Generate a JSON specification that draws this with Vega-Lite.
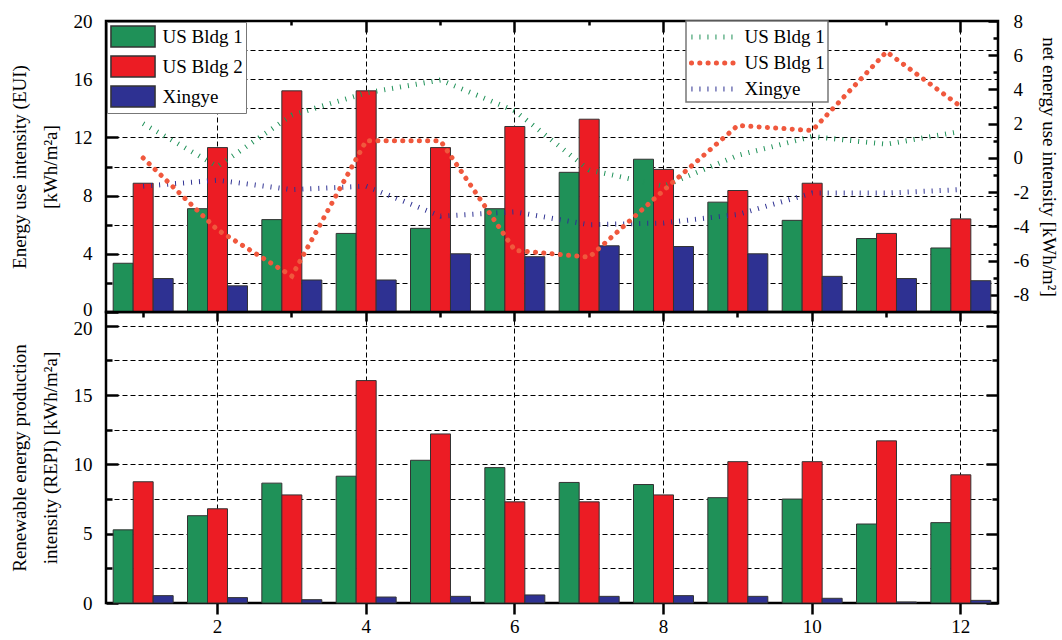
{
  "$schema": "https://vega.github.io/schema/vega-lite/v6.json",
  "padding": {"left": 8, "top": 10, "right": 2, "bottom": 5},
  "background": "white",
  "spacing": 0,
  "bounds": "flush",
  "data": {"values": [
    {"month": 1, "series": "US Bldg 1", "eui": 3.35, "repi": 5.28, "net": 2.0},
    {"month": 1, "series": "US Bldg 2", "eui": 8.85, "repi": 8.75, "net": 0.0},
    {"month": 1, "series": "Xingye", "eui": 2.3, "repi": 0.53, "net": -1.65},
    {"month": 2, "series": "US Bldg 1", "eui": 7.1, "repi": 6.3, "net": -0.5},
    {"month": 2, "series": "US Bldg 2", "eui": 11.3, "repi": 6.8, "net": -4.2},
    {"month": 2, "series": "Xingye", "eui": 1.8, "repi": 0.39, "net": -1.3},
    {"month": 3, "series": "US Bldg 1", "eui": 6.35, "repi": 8.65, "net": 2.5},
    {"month": 3, "series": "US Bldg 2", "eui": 15.2, "repi": 7.8, "net": -6.9},
    {"month": 3, "series": "Xingye", "eui": 2.2, "repi": 0.24, "net": -1.85},
    {"month": 4, "series": "US Bldg 1", "eui": 5.4, "repi": 9.15, "net": 3.8},
    {"month": 4, "series": "US Bldg 2", "eui": 15.2, "repi": 16.05, "net": 1.0},
    {"month": 4, "series": "Xingye", "eui": 2.2, "repi": 0.43, "net": -1.65},
    {"month": 5, "series": "US Bldg 1", "eui": 5.75, "repi": 10.3, "net": 4.55},
    {"month": 5, "series": "US Bldg 2", "eui": 11.3, "repi": 12.2, "net": 1.0},
    {"month": 5, "series": "Xingye", "eui": 4.0, "repi": 0.48, "net": -3.4},
    {"month": 6, "series": "US Bldg 1", "eui": 7.1, "repi": 9.77, "net": 2.75},
    {"month": 6, "series": "US Bldg 2", "eui": 12.75, "repi": 7.3, "net": -5.4},
    {"month": 6, "series": "Xingye", "eui": 3.8, "repi": 0.58, "net": -3.15},
    {"month": 7, "series": "US Bldg 1", "eui": 9.6, "repi": 8.7, "net": -0.7},
    {"month": 7, "series": "US Bldg 2", "eui": 13.25, "repi": 7.3, "net": -5.8},
    {"month": 7, "series": "Xingye", "eui": 4.55, "repi": 0.48, "net": -3.9},
    {"month": 8, "series": "US Bldg 1", "eui": 10.5, "repi": 8.55, "net": -1.65},
    {"month": 8, "series": "US Bldg 2", "eui": 9.8, "repi": 7.8, "net": -1.9},
    {"month": 8, "series": "Xingye", "eui": 4.5, "repi": 0.53, "net": -3.8},
    {"month": 9, "series": "US Bldg 1", "eui": 7.55, "repi": 7.6, "net": 0.15},
    {"month": 9, "series": "US Bldg 2", "eui": 8.35, "repi": 10.2, "net": 1.9},
    {"month": 9, "series": "Xingye", "eui": 4.0, "repi": 0.48, "net": -3.3},
    {"month": 10, "series": "US Bldg 1", "eui": 6.3, "repi": 7.5, "net": 1.25},
    {"month": 10, "series": "US Bldg 2", "eui": 8.85, "repi": 10.2, "net": 1.6},
    {"month": 10, "series": "Xingye", "eui": 2.45, "repi": 0.34, "net": -2.05},
    {"month": 11, "series": "US Bldg 1", "eui": 5.05, "repi": 5.7, "net": 0.8},
    {"month": 11, "series": "US Bldg 2", "eui": 5.4, "repi": 11.7, "net": 6.2},
    {"month": 11, "series": "Xingye", "eui": 2.3, "repi": 0.07, "net": -2.05},
    {"month": 12, "series": "US Bldg 1", "eui": 4.4, "repi": 5.8, "net": 1.55},
    {"month": 12, "series": "US Bldg 2", "eui": 6.4, "repi": 9.25, "net": 3.0},
    {"month": 12, "series": "Xingye", "eui": 2.15, "repi": 0.19, "net": -1.85}
  ]},
  "vconcat": [
    {
      "width": 892,
      "height": 291,
      "layer": [
        {
          "mark": {"type": "bar", "stroke": "#333", "strokeWidth": 1},
          "encoding": {
            "x": {"field": "month", "type": "ordinal",
              "scale": {"type": "band", "domain": [1,2,3,4,5,6,7,8,9,10,11,12], "paddingInner": 0.193, "paddingOuter": 0.0965},
              "axis": {"orient": "bottom", "labels": false, "title": null, "bandPosition": 0.5, "grid": true,
                "gridOpacity": {"condition": {"test": "datum.value % 2 == 0", "value": 1}, "value": 0},
                "tickSize": {"condition": {"test": "datum.value % 2 == 0", "value": 9}, "value": 5}}},
            "xOffset": {"field": "series", "type": "nominal", "scale": {"domain": ["US Bldg 1", "US Bldg 2", "Xingye"], "paddingInner": 0, "paddingOuter": 0}},
            "y": {"field": "eui", "type": "quantitative", "scale": {"domain": [0, 20], "nice": false},
              "axis": {"orient": "left", "values": [0,2,4,6,8,10,12,14,16,18,20],
                "labelExpr": "datum.value % 4 == 0 ? '' + datum.value : ''",
                "labelFont": "Liberation Serif", "titleFont": "Liberation Serif",
                "labelOffset": {"condition": {"test": "datum.value == 0", "value": -3}, "value": 0},
                "tickSize": {"condition": {"test": "datum.value % 4 == 0", "value": -12}, "value": -6},
                "labelPadding": 26, "grid": true,
                "title": ["Energy use intensity (EUI)", "[kWh/m²a]"], "titlePadding": 13, "titleLineHeight": 31}},
            "fill": {"field": "series", "type": "nominal",
              "scale": {"domain": ["US Bldg 1", "US Bldg 2", "Xingye"], "range": ["#1f9158", "#ec1c24", "#2e3192"]},
              "legend": {"orient": "top-left", "offset": 1, "title": null,
                "symbolType": "M-2.1,-1H2.1V1H-2.1Z",
                "encode": {"legend": {"update": {"strokeWidth": {"value": 1.5}}},
                  "symbols": {"update": {"stroke": {"value": "#333"}, "strokeWidth": {"value": 1}}}}}}
          }
        },
        {
          "encoding": {
            "x": {"field": "month", "type": "ordinal",
              "axis": {"orient": "top", "labels": false, "title": null, "grid": false, "bandPosition": 0.5,
                "tickSize": {"condition": {"test": "datum.value % 2 == 0", "value": -11}, "value": -4}}},
            "y": {"field": "net", "type": "quantitative", "scale": {"domain": [-9, 8], "nice": false},
              "axis": {"orient": "right", "values": [-9,-8,-7,-6,-5,-4,-3,-2,-1,0,1,2,3,4,5,6,7,8],
                "labelExpr": "datum.value % 2 == 0 ? '' + datum.value : ''",
                "labelFont": "Liberation Serif", "titleFont": "Liberation Serif",
                "tickSize": {"condition": {"test": "datum.value % 2 == 0", "value": -10}, "value": -5},
                "labelPadding": 25, "grid": false,
                "title": "net energy use intensity [kWh/m²]", "titlePadding": 10}},
            "stroke": {"field": "series", "type": "nominal",
              "scale": {"domain": ["US Bldg 1", "US Bldg 2", "Xingye"], "range": ["#1f9158", "#f0583d", "#2e3192"]},
              "legend": {"orient": "none", "legendX": 580, "legendY": 0, "title": null,
                "symbolType": "M-2.1,0H2.1", "symbolStrokeWidth": 5,
                "labelExpr": "datum.label == 'US Bldg 2' ? 'US Bldg 1' : datum.label",
                "encode": {"legend": {"update": {"strokeWidth": {"value": 1.5}}},
                  "symbols": {"update": {"fill": {"value": "transparent"}, "strokeWidth": {"value": 5},
                    "strokeCap": {"signal": "datum.value == 'US Bldg 2' ? 'round' : 'butt'"}}}}}},
            "strokeDash": {"field": "series", "type": "nominal",
              "scale": {"domain": ["US Bldg 1", "US Bldg 2", "Xingye"], "range": [[1, 7], [0.1, 8.2], [1, 7]]}}
          },
          "layer": [
            {"transform": [{"filter": "datum.series != 'US Bldg 2'"}],
             "mark": {"type": "line", "strokeWidth": 5, "strokeCap": "butt", "interpolate": "linear"}},
            {"transform": [{"filter": "datum.series == 'US Bldg 2'"}],
             "mark": {"type": "line", "strokeWidth": 5, "strokeCap": "round", "interpolate": "linear"}}
          ]
        }
      ],
      "resolve": {"scale": {"y": "independent"}, "axis": {"x": "independent", "y": "independent"}}
    },
    {
      "width": 892,
      "height": 291,
      "layer": [
        {
          "mark": {"type": "bar", "stroke": "#333", "strokeWidth": 1},
          "encoding": {
            "x": {"field": "month", "type": "ordinal",
              "scale": {"type": "band", "domain": [1,2,3,4,5,6,7,8,9,10,11,12], "paddingInner": 0.193, "paddingOuter": 0.0965},
              "axis": {"orient": "bottom", "values": [2,4,6,8,10,12], "title": null, "labelAngle": 0, "tickSize": 11, "labelPadding": 3, "grid": true, "bandPosition": 0.5, "labelFont": "Liberation Serif"}},
            "xOffset": {"field": "series", "type": "nominal", "scale": {"domain": ["US Bldg 1", "US Bldg 2", "Xingye"], "paddingInner": 0, "paddingOuter": 0}},
            "y": {"field": "repi", "type": "quantitative", "scale": {"domain": [0, 21], "nice": false},
              "axis": {"orient": "left", "values": [0,2.5,5,7.5,10,12.5,15,17.5,20],
                "labelExpr": "datum.value % 5 == 0 ? '' + datum.value : ''",
                "labelFont": "Liberation Serif", "titleFont": "Liberation Serif",
                "labelOffset": {"condition": {"test": "datum.value == 20", "value": 3}, "value": 0},
                "tickSize": {"condition": {"test": "datum.value % 5 == 0", "value": -12}, "value": -6},
                "labelPadding": 26, "grid": true,
                "title": ["Renewable energy production", "intensity (REPI) [kWh/m²a]"], "titlePadding": 13, "titleLineHeight": 31}},
            "fill": {"field": "series", "type": "nominal",
              "scale": {"domain": ["US Bldg 1", "US Bldg 2", "Xingye"], "range": ["#1f9158", "#ec1c24", "#2e3192"]},
              "legend": null}
          }
        },
        {
          "mark": {"type": "rule", "opacity": 0},
          "encoding": {
            "y": {"datum": 0, "type": "quantitative",
              "axis": {"orient": "right", "values": [0,2.5,5,7.5,10,12.5,15,17.5,20], "labels": false, "title": null, "grid": false,
                "tickSize": {"condition": {"test": "datum.value % 5 == 0", "value": -12}, "value": -6}}}
          }
        }
      ],
      "resolve": {"axis": {"y": "independent"}}
    }
  ],
  "resolve": {"scale": {"fill": "independent", "x": "independent"}, "legend": {"fill": "independent"}},
  "config": {
    "font": "Liberation Serif",
    "view": {"stroke": "#000", "strokeWidth": 2.5},
    "axis": {"labelFont": "Liberation Serif", "labelFontSize": 19, "labelColor": "#000",
      "titleFont": "Liberation Serif", "titleFontSize": 19, "titleFontWeight": "normal", "titleColor": "#000",
      "domain": false, "tickColor": "#000", "tickWidth": 2.5,
      "gridColor": "#000", "gridDash": [5, 3], "gridWidth": 1, "gridOpacity": 1},
    "legend": {"labelFont": "Liberation Serif", "labelFontSize": 19, "labelColor": "#000",
      "padding": 3, "rowPadding": 3, "strokeColor": "#777", "fillColor": "#fff", "cornerRadius": 0,
      "symbolOffset": 11.5, "labelOffset": 18, "symbolSize": 441}
  }
}
